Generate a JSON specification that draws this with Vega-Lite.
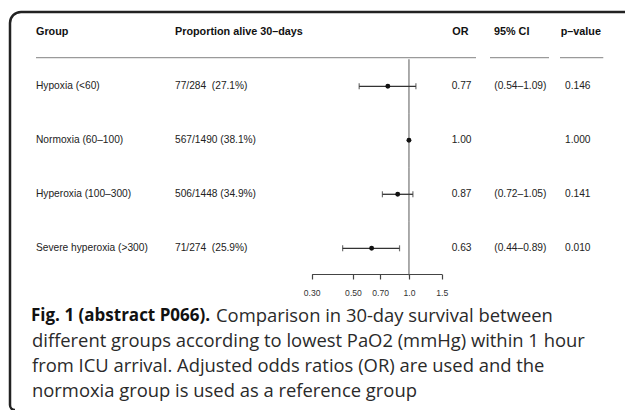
{
  "$schema": "https://vega.github.io/schema/vega-lite/v6.json",
  "background": "white",
  "width": 615,
  "height": 398,
  "autosize": {"type": "none"},
  "padding": {"left": 10, "top": 12, "right": 0, "bottom": 0},
  "view": {"stroke": null, "fill": null},
  "config": {"font": "Liberation Sans"},
  "datasets": {
    "header": [
      {"group": "Group", "prop": "Proportion alive 30–days", "or": "OR", "ci": "95% CI", "p": "p–value"}
    ],
    "rows": [
      {"group": "Hypoxia (<60)", "prop": "77/284\u00a0 (27.1%)", "or": 0.77, "lo": 0.54, "hi": 1.09, "ci": "(0.54–1.09)", "p": "0.146"},
      {"group": "Normoxia (60–100)", "prop": "567/1490 (38.1%)", "or": 1.0, "lo": null, "hi": null, "ci": "", "p": "1.000"},
      {"group": "Hyperoxia (100–300)", "prop": "506/1448 (34.9%)", "or": 0.87, "lo": 0.72, "hi": 1.05, "ci": "(0.72–1.05)", "p": "0.141"},
      {"group": "Severe hyperoxia (>300)", "prop": "71/274\u00a0 (25.9%)", "or": 0.63, "lo": 0.44, "hi": 0.89, "ci": "(0.44–0.89)", "p": "0.010"}
    ],
    "caption": [
      {"line": 1, "part": "label", "text": "Fig. 1 (abstract P066)."},
      {"line": 1, "part": "lead", "text": "Comparison in 30-day survival between"},
      {"line": 2, "part": "body", "text": "different groups according to lowest PaO2 (mmHg) within 1 hour"},
      {"line": 3, "part": "body", "text": "from ICU arrival. Adjusted odds ratios (OR) are used and the"},
      {"line": 4, "part": "body", "text": "normoxia group is used as a reference group"}
    ]
  },
  "resolve": {"scale": {"y": "independent"}},
  "layer": [
    {
      "data": {"values": [{"frame": "figure box"}]},
      "mark": {"type": "rect", "fill": null, "stroke": "#222222", "strokeWidth": 2.5, "cornerRadiusTopLeft": 11, "cornerRadiusTopRight": 0, "cornerRadiusBottomRight": 0, "cornerRadiusBottomLeft": 5, "strokeDash": [604, 1008, 412]},
      "encoding": {"x": {"value": 0}, "x2": {"value": "width"}, "y": {"value": 0}, "y2": {"value": "height"}}
    },
    {
      "encoding": {
        "y": {"field": "group", "type": "nominal", "axis": null, "scale": {"type": "band", "domain": ["Group", "Hypoxia (<60)", "Normoxia (60–100)", "Hyperoxia (100–300)", "Severe hyperoxia (>300)"], "range": [-6.7, 263.3], "paddingInner": 0, "paddingOuter": 0}}
      },
      "layer": [
        {"data": {"name": "header"}, "mark": {"type": "rule", "color": "#9a9a9a", "strokeWidth": 1.3}, "encoding": {"x": {"value": 26}, "x2": {"value": 466}, "y": {"field": "group", "type": "nominal", "bandPosition": 0.969}}},
        {"data": {"name": "header"}, "mark": {"type": "rule", "color": "#9a9a9a", "strokeWidth": 1.3}, "encoding": {"x": {"value": 480}, "x2": {"value": 539}, "y": {"field": "group", "type": "nominal", "bandPosition": 0.969}}},
        {"data": {"name": "header"}, "mark": {"type": "rule", "color": "#9a9a9a", "strokeWidth": 1.3}, "encoding": {"x": {"value": 550}, "x2": {"value": 593.3}, "y": {"field": "group", "type": "nominal", "bandPosition": 0.969}}},
        {"data": {"name": "header"}, "mark": {"type": "text", "align": "left", "baseline": "middle", "fontWeight": "bold", "fontSize": 10.8, "color": "#111111"}, "encoding": {"x": {"value": 26}, "text": {"field": "group"}}},
        {"data": {"name": "header"}, "mark": {"type": "text", "align": "left", "baseline": "middle", "fontWeight": "bold", "fontSize": 10.8, "color": "#111111"}, "encoding": {"x": {"value": 165}, "text": {"field": "prop"}}},
        {"data": {"name": "header"}, "mark": {"type": "text", "align": "left", "baseline": "middle", "fontWeight": "bold", "fontSize": 10.8, "color": "#111111"}, "encoding": {"x": {"value": 442.3}, "text": {"field": "or"}}},
        {"data": {"name": "header"}, "mark": {"type": "text", "align": "left", "baseline": "middle", "fontWeight": "bold", "fontSize": 10.8, "color": "#111111"}, "encoding": {"x": {"value": 484}, "text": {"field": "ci"}}},
        {"data": {"name": "header"}, "mark": {"type": "text", "align": "left", "baseline": "middle", "fontWeight": "bold", "fontSize": 10.8, "color": "#111111"}, "encoding": {"x": {"value": 550.7}, "text": {"field": "p"}}},
        {"data": {"name": "rows"}, "mark": {"type": "text", "align": "left", "baseline": "middle", "fontSize": 10.2, "color": "#222222"}, "encoding": {"x": {"value": 26}, "text": {"field": "group"}}},
        {"data": {"name": "rows"}, "mark": {"type": "text", "align": "left", "baseline": "middle", "fontSize": 10.2, "color": "#222222"}, "encoding": {"x": {"value": 165}, "text": {"field": "prop"}}},
        {"data": {"name": "rows"}, "mark": {"type": "text", "align": "left", "baseline": "middle", "fontSize": 10.2, "color": "#222222"}, "encoding": {"x": {"value": 441.7}, "text": {"field": "or", "type": "quantitative", "format": ".2f"}}},
        {"data": {"name": "rows"}, "mark": {"type": "text", "align": "left", "baseline": "middle", "fontSize": 10.2, "color": "#222222"}, "encoding": {"x": {"value": 484.3}, "text": {"field": "ci"}}},
        {"data": {"name": "rows"}, "mark": {"type": "text", "align": "left", "baseline": "middle", "fontSize": 10.2, "color": "#222222"}, "encoding": {"x": {"value": 555}, "text": {"field": "p"}}},
        {"data": {"name": "rows"}, "mark": {"type": "tick", "orient": "vertical", "size": 54, "thickness": 1.4, "color": "#555555"}, "encoding": {"x": {"datum": 1, "type": "quantitative", "scale": {"type": "log", "domain": [0.3, 1.5], "range": [301.7, 431.7], "nice": false, "zero": false}, "axis": {"values": [0.3, 0.5, 0.7, 1, 1.5], "labelExpr": "datum.value < 0.95 ? format(datum.value, '.2f') : format(datum.value, '.1f')", "offset": -136, "tickSize": 5, "labelFontSize": 8.6, "labelPadding": 9, "domainColor": "#444444", "tickColor": "#444444", "domainWidth": 1.2, "tickWidth": 1.2, "labelColor": "#333333", "title": null, "grid": false, "labelFlush": false, "labelOverlap": false}}}},
        {"data": {"name": "rows"}, "transform": [{"filter": "isValid(datum.lo)"}], "mark": {"type": "rule", "color": "#333333", "strokeWidth": 1.3}, "encoding": {"x": {"field": "lo", "type": "quantitative", "scale": {"type": "log", "domain": [0.3, 1.5], "range": [301.7, 431.7], "nice": false, "zero": false}, "axis": {"values": [0.3, 0.5, 0.7, 1, 1.5], "labelExpr": "datum.value < 0.95 ? format(datum.value, '.2f') : format(datum.value, '.1f')", "offset": -136, "tickSize": 5, "labelFontSize": 8.6, "labelPadding": 9, "domainColor": "#444444", "tickColor": "#444444", "domainWidth": 1.2, "tickWidth": 1.2, "labelColor": "#333333", "title": null, "grid": false, "labelFlush": false, "labelOverlap": false}}, "x2": {"field": "hi"}}},
        {"data": {"name": "rows"}, "transform": [{"filter": "isValid(datum.lo)"}], "mark": {"type": "tick", "orient": "vertical", "size": 6, "thickness": 1.2, "color": "#333333"}, "encoding": {"x": {"field": "lo", "type": "quantitative", "scale": {"type": "log", "domain": [0.3, 1.5], "range": [301.7, 431.7], "nice": false, "zero": false}, "axis": {"values": [0.3, 0.5, 0.7, 1, 1.5], "labelExpr": "datum.value < 0.95 ? format(datum.value, '.2f') : format(datum.value, '.1f')", "offset": -136, "tickSize": 5, "labelFontSize": 8.6, "labelPadding": 9, "domainColor": "#444444", "tickColor": "#444444", "domainWidth": 1.2, "tickWidth": 1.2, "labelColor": "#333333", "title": null, "grid": false, "labelFlush": false, "labelOverlap": false}}}},
        {"data": {"name": "rows"}, "transform": [{"filter": "isValid(datum.hi)"}], "mark": {"type": "tick", "orient": "vertical", "size": 6, "thickness": 1.2, "color": "#333333"}, "encoding": {"x": {"field": "hi", "type": "quantitative", "scale": {"type": "log", "domain": [0.3, 1.5], "range": [301.7, 431.7], "nice": false, "zero": false}, "axis": {"values": [0.3, 0.5, 0.7, 1, 1.5], "labelExpr": "datum.value < 0.95 ? format(datum.value, '.2f') : format(datum.value, '.1f')", "offset": -136, "tickSize": 5, "labelFontSize": 8.6, "labelPadding": 9, "domainColor": "#444444", "tickColor": "#444444", "domainWidth": 1.2, "tickWidth": 1.2, "labelColor": "#333333", "title": null, "grid": false, "labelFlush": false, "labelOverlap": false}}}},
        {"data": {"name": "rows"}, "mark": {"type": "point", "filled": true, "size": 24, "color": "#111111", "opacity": 1}, "encoding": {"x": {"field": "or", "type": "quantitative", "scale": {"type": "log", "domain": [0.3, 1.5], "range": [301.7, 431.7], "nice": false, "zero": false}, "axis": {"values": [0.3, 0.5, 0.7, 1, 1.5], "labelExpr": "datum.value < 0.95 ? format(datum.value, '.2f') : format(datum.value, '.1f')", "offset": -136, "tickSize": 5, "labelFontSize": 8.6, "labelPadding": 9, "domainColor": "#444444", "tickColor": "#444444", "domainWidth": 1.2, "tickWidth": 1.2, "labelColor": "#333333", "title": null, "grid": false, "labelFlush": false, "labelOverlap": false}}}}
      ]
    },
    {
      "data": {"name": "caption"},
      "encoding": {
        "y": {"field": "line", "type": "ordinal", "axis": null, "scale": {"type": "band", "range": [291.5, 391.5], "paddingInner": 0, "paddingOuter": 0}},
        "text": {"field": "text"}
      },
      "layer": [
        {"transform": [{"filter": "datum.part == 'label'"}], "mark": {"type": "text", "align": "left", "baseline": "middle", "font": "Open Sans", "fontWeight": "bold", "fontSize": 17, "color": "#111111"}, "encoding": {"x": {"value": 21}}},
        {"transform": [{"filter": "datum.part == 'lead'"}], "mark": {"type": "text", "align": "left", "baseline": "middle", "font": "Open Sans", "fontSize": 18.4, "color": "#2a2a2a"}, "encoding": {"x": {"value": 206}}},
        {"transform": [{"filter": "datum.part == 'body'"}], "mark": {"type": "text", "align": "left", "baseline": "middle", "font": "Open Sans", "fontSize": 18.4, "color": "#2a2a2a"}, "encoding": {"x": {"value": 22}}}
      ]
    }
  ]
}
